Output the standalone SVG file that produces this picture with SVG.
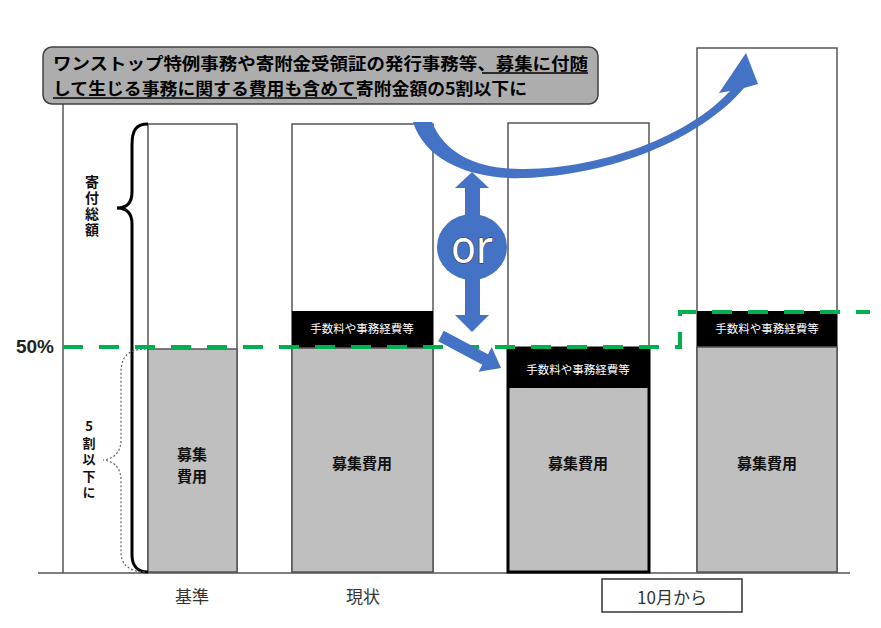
<svg xmlns="http://www.w3.org/2000/svg" width="881" height="628" viewBox="0 0 881 628">
<style>
.jp{font-family:"Noto Sans CJK JP","Liberation Sans",sans-serif}
.bar{fill:#fff;stroke:#555;stroke-width:1.5}
.gray{fill:#bfbfbf;stroke:#555;stroke-width:1.5}
.fee{fill:#000}
.feet{font-family:"Noto Sans CJK JP",sans-serif;font-size:11.5px;fill:#fff;text-anchor:middle;dominant-baseline:central}
.lbl{font-family:"Noto Sans CJK JP",sans-serif;font-size:15px;font-weight:bold;fill:#111;text-anchor:middle;dominant-baseline:central}
.vt{font-family:"Noto Sans CJK JP",sans-serif;font-weight:bold;fill:#111;writing-mode:vertical-rl;text-orientation:upright}
.ax{font-family:"Noto Sans CJK JP",sans-serif;font-size:17px;fill:#333;text-anchor:middle;dominant-baseline:central}
.blue{fill:#4472c4}
</style>
<rect width="881" height="628" fill="#fff"/>

<g id="axes">
<line x1="63" y1="104" x2="63" y2="573" stroke="#555" stroke-width="1.5"/>
<line x1="38" y1="573" x2="850" y2="573" stroke="#555" stroke-width="1.5"/>
</g>

<g id="callout">
<rect x="43" y="47" width="555" height="57" rx="9" fill="#adadad" stroke="#404040" stroke-width="1.5"/>
<text class="jp" x="53" y="70" font-size="16.5" font-weight="bold" fill="#000" textLength="535" lengthAdjust="spacingAndGlyphs">ワンストップ特例事務や寄附金受領証の発行事務等、募集に付随</text>
<text class="jp" x="53" y="95" font-size="16.5" font-weight="bold" fill="#000" textLength="474" lengthAdjust="spacingAndGlyphs">して生じる事務に関する費用も含めて寄附金額の5割以下に</text>
<line x1="482" y1="73" x2="588" y2="73" stroke="#000" stroke-width="1.5"/>
<line x1="53" y1="98" x2="357" y2="98" stroke="#000" stroke-width="1.5"/>
</g>

<g id="bar-kijun">
<rect class="bar" x="148" y="124" width="89" height="448"/>
<rect class="gray" x="148" y="349" width="89" height="223"/>
<text class="lbl" x="192" y="453">募集</text>
<text class="lbl" x="192" y="475">費用</text>
</g>

<g id="bar-genjo">
<rect class="bar" x="292" y="124" width="141" height="448"/>
<rect class="fee" x="292" y="311" width="141" height="37"/>
<text class="feet" x="362" y="328">手数料や事務経費等</text>
<rect class="gray" x="292" y="348" width="141" height="224"/>
<text class="lbl" x="362" y="462">募集費用</text>
</g>

<g id="bar-oct-a">
<rect class="bar" x="508" y="123" width="141" height="449"/>
<rect x="508" y="348" width="141" height="224" fill="#bfbfbf"/>
<rect class="fee" x="508" y="348" width="141" height="40"/>
<rect x="508" y="348" width="141" height="224" fill="none" stroke="#000" stroke-width="3"/>
<text class="feet" x="578" y="369">手数料や事務経費等</text>
<text class="lbl" x="578" y="462">募集費用</text>
</g>

<g id="bar-oct-b">
<rect class="bar" x="697" y="48" width="140" height="524"/>
<rect class="fee" x="697" y="311" width="140" height="36"/>
<text class="feet" x="767" y="328">手数料や事務経費等</text>
<rect class="gray" x="697" y="347" width="140" height="225"/>
<text class="lbl" x="767" y="462">募集費用</text>
</g>

<g id="brace-total">
<path d="M148,124 C136,124 132,130 132,145 L132,192 C132,203 127,208 117,208 C127,208 132,213 132,224 L132,555 C132,566 138,572 148,572" fill="none" stroke="#000" stroke-width="3"/>
<text class="vt" font-size="14" letter-spacing="2" x="92" y="175">寄付総額</text>
</g>

<g id="brace-half">
<path d="M146,349 C129,349 121,356 121,372 L121,440 C121,452 114,459 103,460 C114,461 121,468 121,480 L121,552 C121,565 130,572 146,572" fill="none" stroke="#666" stroke-width="1.2" stroke-dasharray="2 2"/>
<text class="vt" font-size="13" letter-spacing="3.5" x="89" y="420">5割以下に</text>
</g>

<g id="label-50">
<text x="54" y="353" font-family="Liberation Sans,sans-serif" font-size="19" font-weight="bold" fill="#222" text-anchor="end">50%</text>
</g>

<g id="connectors">
<path d="M63,347 L680,347 L680,312 L870,312" fill="none" stroke="#00b050" stroke-width="4" stroke-dasharray="20 16"/>
<path class="blue" d="M413,122 C425,160 470,180 525,178 C610,175 700,140 744,88 L758,84 L746,53 L719,93 L730,91 C690,135 605,168 525,169 C480,170 445,155 432,122 Z"/>
<path class="blue" d="M472,172 L489,188 L480,188 L480,315 L489,315 L472,332 L455,315 L465,315 L465,188 L455,188 Z"/>
<path class="blue" transform="translate(441,336) rotate(28)" d="M0,-6 L50,-6 L50,-14 L68,0 L50,14 L50,6 L0,6 Z"/>
</g>

<g id="or-node">
<ellipse class="blue" cx="472" cy="247" rx="35" ry="33"/>
<text x="472" y="263" font-family="Noto Sans,sans-serif" font-size="46" fill="#fff" stroke="#333" stroke-width="1.2" paint-order="stroke" text-anchor="middle" textLength="42" lengthAdjust="spacingAndGlyphs">or</text>
</g>

<g id="bottom-labels">
<text class="ax" x="192" y="595">基準</text>
<text class="ax" x="363" y="595">現状</text>
<rect x="602" y="579" width="140" height="33" fill="#fff" stroke="#333" stroke-width="1.5"/>
<text class="ax" x="672" y="596" font-size="19">10月から</text>
</g>
</svg>
